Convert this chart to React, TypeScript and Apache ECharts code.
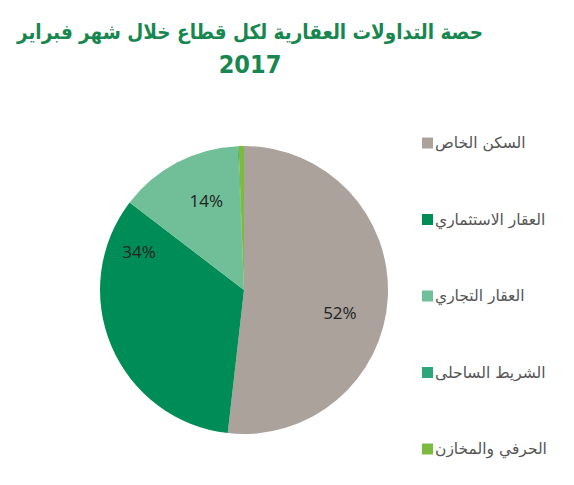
import React, { useEffect, useRef } from "react";
import * as echarts from "echarts";

const titleLine1 = "حصة التداولات العقارية لكل قطاع خلال شهر فبراير";
const titleLine2 = "2017";
const categories = ["السكن الخاص", "العقار الاستثماري", "العقار التجاري", "الشريط الساحلى", "الحرفي والمخازن"];
const values = [51.8, 33.6, 13.9, 0.1, 0.6];
const colors = ["#ABA29C", "#008C57", "#70BF98", "#2EA57B", "#7CBB3E"];

export default function App() {
  const ref = useRef<HTMLDivElement>(null);
  useEffect(() => {
    document.body.style.margin = "0";
    const chart = echarts.init(ref.current!, null, { renderer: "svg" });
    const nudges = [[21, 18], [-36, -68], [-3, -23], [0, 0], [0, 0]];
    const titleStyle = {
      fontFamily: "DejaVu Sans Condensed",
      fontWeight: "bold",
      color: "#17874F",
    };
    chart.setOption({
      animation: false,
      backgroundColor: "#ffffff",
      title: {
        text: "{a|" + titleLine1 + "}\n{b|" + titleLine2 + "}",
        left: 245,
        textAlign: "center",
        top: 10,
        textStyle: {
          rich: {
            a: { ...titleStyle, fontSize: 20.5, lineHeight: 33, align: "center" },
            b: { ...titleStyle, fontSize: 25, lineHeight: 33, align: "center" },
          },
        },
      },
      legend: {
        orient: "vertical",
        left: 417,
        top: 130,
        itemWidth: 11,
        itemHeight: 11,
        itemGap: 60.5,
        icon: "rect",
        textStyle: { fontFamily: "DejaVu Sans", fontSize: 15.5, color: "#555555", padding: [0, 0, 0, -3] },
        data: categories,
      },
      series: [
        {
          type: "pie",
          center: [244, 290],
          radius: 144,
          startAngle: 90,
          clockwise: true,
          percentPrecision: 1,
          data: categories.map((name, i) => ({ name, value: values[i], itemStyle: { color: colors[i] } })),
          label: {
            show: true,
            position: "inside",
            fontFamily: "Open Sans",
            fontSize: 17,
            color: "#222222",
            formatter: (p: any) => (p.percent >= 1 ? Math.round(p.percent) + "%" : ""),
          },
          labelLayout: (p: any) => {
            const n = nudges[p.dataIndex] || [0, 0];
            return { dx: n[0], dy: n[1] };
          },
          labelLine: { show: false },
          emphasis: { disabled: true },
        },
      ],
    });
    return () => chart.dispose();
  }, []);
  return <div ref={ref} style={{ width: 574, height: 485 }} />;
}
